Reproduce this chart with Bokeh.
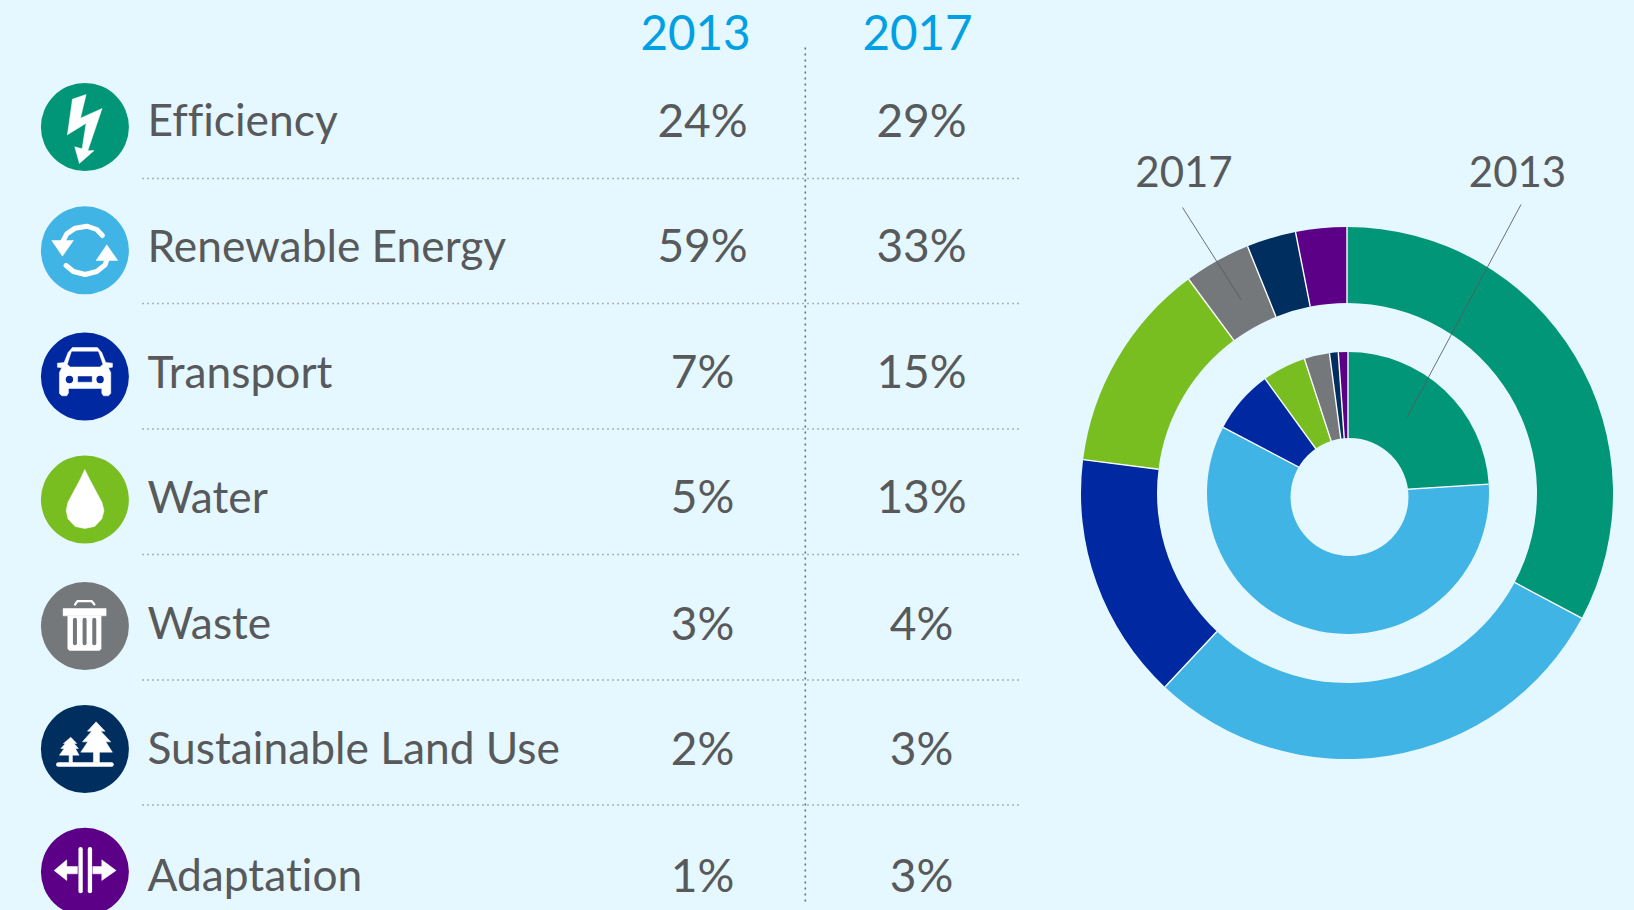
from math import pi
import numpy as np
from bokeh.plotting import figure
from bokeh.core.properties import value
from bokeh.embed import file_html
from bokeh.resources import INLINE

# ---- data ----
categories = ["Efficiency", "Renewable Energy", "Transport", "Water", "Waste", "Sustainable Land Use", "Adaptation"]
table_2013 = ["24%", "59%", "7%", "5%", "3%", "2%", "1%"]
table_2017 = ["29%", "33%", "15%", "13%", "4%", "3%", "3%"]
years = ["2013", "2017"]
# slice shares as drawn in the rings
ring_2013 = [24.0, 58.7, 7.3, 5.0, 2.9, 1.0, 1.1]
ring_2017 = [32.8, 29.2, 15, 12.85, 4.05, 3, 3.1]
colors = ["#009677", "#41b4e6", "#0028a0", "#78be20", "#75787b", "#002f5f", "#5c0087"]

BG = "#e5f7ff"
TXT = "#58595b"
BLUE = "#00a0e3"
DOT = "#6d6e71"
FONT = "Lato"
W, H = 1634, 910
BASE_SHIFT = 0.375  # the renderer sets alphabetic text this many em below the anchor

p = figure(width=W, height=H, x_range=(0, W), y_range=(0, H), output_backend="svg",
           toolbar_location=None, min_border=0, outline_line_color=None,
           background_fill_color=BG, border_fill_color=BG)
p.xaxis.visible = False
p.yaxis.visible = False
p.grid.visible = False

def Y(v):
    return H - np.asarray(v, dtype=float)

def label(xs, ys, texts, size, color, align):
    p.text(xs, Y(ys), text=texts, text_font=value(FONT), text_font_size=f"{size}px",
           text_color=color, text_align=align, text_baseline="alphabetic", y_offset=-BASE_SHIFT * size)

# ---- table layout ----
row_cy = [126.5, 249.8, 376, 499, 625.5, 748.5, 871.3]
row_base = [136, 261.7, 387.3, 512.3, 639, 764, 891]
rule_y = [178, 303, 428.5, 554, 679.5, 804.5]
LABEL_X, COL1, COL2 = 147, 702, 921

# dotted rules
for y in rule_y:
    p.line([142, 1019], Y([y, y]), line_color=DOT, line_width=1.5, line_dash="1 4")
p.line([804.8, 804.8], Y([47, 901]), line_color=DOT, line_width=1.6, line_dash="2 4")

# header
label([695, 917], [50, 50], years, 47.5, BLUE, "center")

# rows
label([LABEL_X] * 7, [b - 1 for b in row_base], categories, 44.3, TXT, "left")
label([COL1] * 7, row_base, table_2013, 46, TXT, "center")
label([COL2] * 7, row_base, table_2017, 46, TXT, "center")

# icon discs
p.circle([84.4] * 7, Y(row_cy), radius=44, fill_color=colors, line_color=None)

def z(pts, y0, x0=39.6, sx=3.0, sy=3.0):
    xs = [x0 + a / sx for a, _ in pts]
    ys = [H - (y0 + b / sy) for _, b in pts]
    return xs, ys

def poly(pts, y0, color="white", **kw):
    xs, ys = z(pts, y0, **kw)
    p.patch(xs, ys, fill_color=color, line_color=color, line_width=0.5)

def stroke(pts, y0, width, color="white"):
    xs, ys = z(pts, y0)
    p.line(xs, ys, line_color=color, line_width=width, line_cap="round", line_join="round")

# bolt
poly([(97,50),(138,36),(121,107),(186,78),(143,205),(162,204),(118,243),(104,193),(126,199),(138,122),(82,157)], 82)
# renew
stroke([(187,90),(170,72),(140,62),(105,68),(80,85),(68,108)], 205, 5)
poly([(35,105),(100,105),(67,152)], 205)
stroke([(78,180),(100,198),(135,207),(170,198),(195,178),(203,155)], 205, 5)
poly([(168,165),(233,165),(200,118)], 205)
# car
poly([(97,45),(172,45),(185,60),(197,90),(217,92),(217,104),(205,106),(212,120),(212,183),(205,190),(190,190),
      (185,182),(185,168),(85,168),(85,182),(80,190),(65,190),(58,183),(58,120),(65,106),(52,104),(52,92),
      (72,90),(84,60)], 332)
poly([(95,58),(174,58),(187,95),(180,102),(90,102),(83,95)], 332, color=colors[2])
xs, ys = z([(88,141),(180,141)], 332)
p.circle(xs, ys, radius=3.7, fill_color=colors[2], line_color=None)
poly([(114,132),(155,132),(155,148),(114,148)], 332, color=colors[2])
# drop
poly([(237,477),(250,505),(270,545),(285,575),(291,600),(285,625),(265,648),(237,654),(210,648),(190,625),
      (185,600),(190,575),(205,545),(225,505)], 310, x0=-0.4, sx=2.8)
# bin
stroke([(105,72),(112,62),(155,62),(163,72)], 580, 2.2)
poly([(69,84),(198,84),(198,106),(69,106)], 580)
poly([(83,106),(183,106),(183,205),(178,210),(88,210),(83,205)], 580)
for sx0 in (104.5, 133.5, 162.5):
    stroke([(sx0, 118), (sx0, 188)], 580, 4, color=colors[4])
# trees
stroke([(55,180),(214,180)], 704, 4.7)
poly([(168,52),(195,80),(182,80),(212,112),(197,112),(217,143),(178,143),(178,175),(160,175),(160,143),
      (122,143),(143,112),(127,112),(155,80),(142,80)], 704)
poly([(92,98),(110,117),(102,117),(115,132),(106,132),(117,152),(97,152),(97,175),(87,175),(87,152),
      (58,152),(72,132),(62,132),(76,117),(70,117)], 704)
# adaptation
stroke([(121.5,86),(121.5,212)], 820, 4.3)
stroke([(149.5,86),(149.5,212)], 820, 4.3)
poly([(42,150),(80,118),(80,138),(112,138),(112,160),(80,160),(80,180)], 820)
poly([(228,150),(185,118),(185,138),(158,138),(158,160),(185,160),(185,180)], 820)

# ---- rings ----
def angles(vals):
    c = np.cumsum([0] + list(vals)) / float(sum(vals))
    return pi / 2 - 2 * pi * c[:-1], pi / 2 - 2 * pi * c[1:]

CX, CY = 1346.5, 492.5
YC = float(H - CY)
s17, e17 = angles(ring_2017)
p.annular_wedge([CX] * 7, [YC] * 7, inner_radius=190, outer_radius=266, start_angle=s17, end_angle=e17,
                direction="clock", fill_color=colors, line_color=None)
s13, e13 = angles(ring_2013)
p.wedge([CX + 1] * 7, [YC] * 7, radius=141, start_angle=s13, end_angle=e13,
        direction="clock", fill_color=colors, line_color=None)

def seams(starts, r0, r1, cx):
    c = np.cos(starts)
    s = np.sin(starts)
    p.segment(cx + r0 * c, YC + r0 * s, cx + r1 * c, YC + r1 * s, line_color="white", line_width=1.4)

seams(s17, 190, 266, CX)
seams(s13, 0, 141, CX + 1)
p.circle([CX + 2.5], Y([496.5]), radius=59, fill_color=BG, line_color=None)

# callouts
label([1183.5, 1517], [187, 187], [years[1], years[0]], 42, TXT, "center")
p.line([1182, 1240.5], Y([207, 299]), line_color="#58595b", line_width=1, line_alpha=0.85)
p.line([1520.5, 1406.6], Y([204, 416.7]), line_color="#58595b", line_width=1, line_alpha=0.85)

template = """{% block postamble %}<style>html,body{margin:0;padding:0;overflow:hidden;background:#e5f7ff;font-variant-ligatures:none}</style>{% endblock %}
"""
open("out.html", "w").write(file_html(p, INLINE, template=template))
